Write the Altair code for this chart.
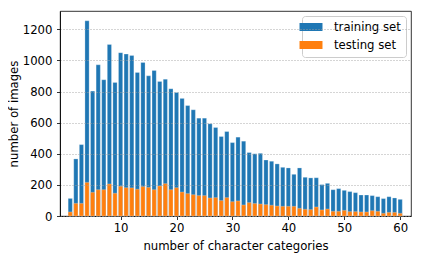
import altair as alt
import pandas as pd

categories = list(range(1, 61))
training = [113, 367, 459, 1255, 803, 972, 876, 1103, 859, 1050,
            1041, 1032, 923, 987, 901, 936, 865, 880, 818, 794,
            756, 710, 683, 629, 629, 593, 569, 511, 543, 472,
            507, 481, 408, 400, 403, 360, 352, 335, 313, 309,
            268, 309, 249, 245, 246, 202, 210, 169, 176, 165,
            157, 150, 135, 135, 131, 124, 112, 124, 116, 107]
testing = [26, 81, 81, 216, 152, 169, 169, 206, 146, 191,
           182, 181, 172, 189, 184, 169, 193, 208, 169, 182,
           154, 144, 137, 131, 131, 116, 118, 99, 118, 92,
           97, 71, 86, 80, 77, 73, 69, 64, 62, 62,
           62, 49, 43, 41, 58, 39, 45, 30, 30, 36,
           28, 28, 26, 26, 34, 30, 17, 23, 23, 17]
series_names = ["training set", "testing set"]
series_colors = ["#1f77b4", "#ff7f0e"]
x_ticks = [10, 20, 30, 40, 50, 60]
y_ticks = [0, 200, 400, 600, 800, 1000, 1200]

df = pd.DataFrame({"cat": categories, series_names[0]: training, series_names[1]: testing})

FONT = "DejaVu Sans"
FS = 11.7

chart = alt.Chart(df).transform_fold(
    series_names, as_=["series", "count"]
).mark_bar(size=4.2, stroke="white", strokeWidth=0.5, strokeOpacity=0.5).encode(
    x=alt.X("cat:Q",
            scale=alt.Scale(domain=[0.06, 61.04], nice=False, zero=False),
            axis=alt.Axis(values=x_ticks, title="number of character categories",
                          grid=False, tickSize=3.5, labelPadding=3, titlePadding=6)),
    y=alt.Y("count:Q", stack=None,
            scale=alt.Scale(domain=[0, 1318], nice=False),
            axis=alt.Axis(values=y_ticks, title="number of images", format="d",
                          grid=True, gridDash=[1, 2], gridColor="#a0a0a0", gridWidth=0.9,
                          tickSize=3.5, labelPadding=4.5, titlePadding=3, zindex=1)),
    color=alt.Color("series:N",
                    scale=alt.Scale(domain=series_names, range=series_colors),
                    sort=series_names,
                    legend=alt.Legend(title=None, orient="top-right", offset=5,
                                      symbolType="M-2,-0.7H2V0.7H-2Z", symbolSize=132,
                                      symbolStrokeWidth=0, symbolOpacity=1, symbolOffset=-2,
                                      labelFont=FONT, labelFontSize=FS, labelColor="black",
                                      fillColor="white", strokeColor="#cccccc",
                                      cornerRadius=3, padding=5, rowPadding=5,
                                      labelOffset=17)),
).properties(
    width=351, height=205,
    autosize=alt.AutoSizeParams(type="none"),
    padding={"left": 52, "top": 3, "right": 9, "bottom": 38},
).configure_view(
    stroke="black", strokeWidth=0.8
).configure_axis(
    labelFont=FONT, labelFontSize=FS, labelColor="black",
    titleFont=FONT, titleFontSize=FS, titleFontWeight="normal", titleColor="black",
    domainColor="black", domainWidth=0.8, tickColor="black", tickWidth=0.8,
)

chart.save("out.html", embed_options={"renderer": "svg", "actions": False})
